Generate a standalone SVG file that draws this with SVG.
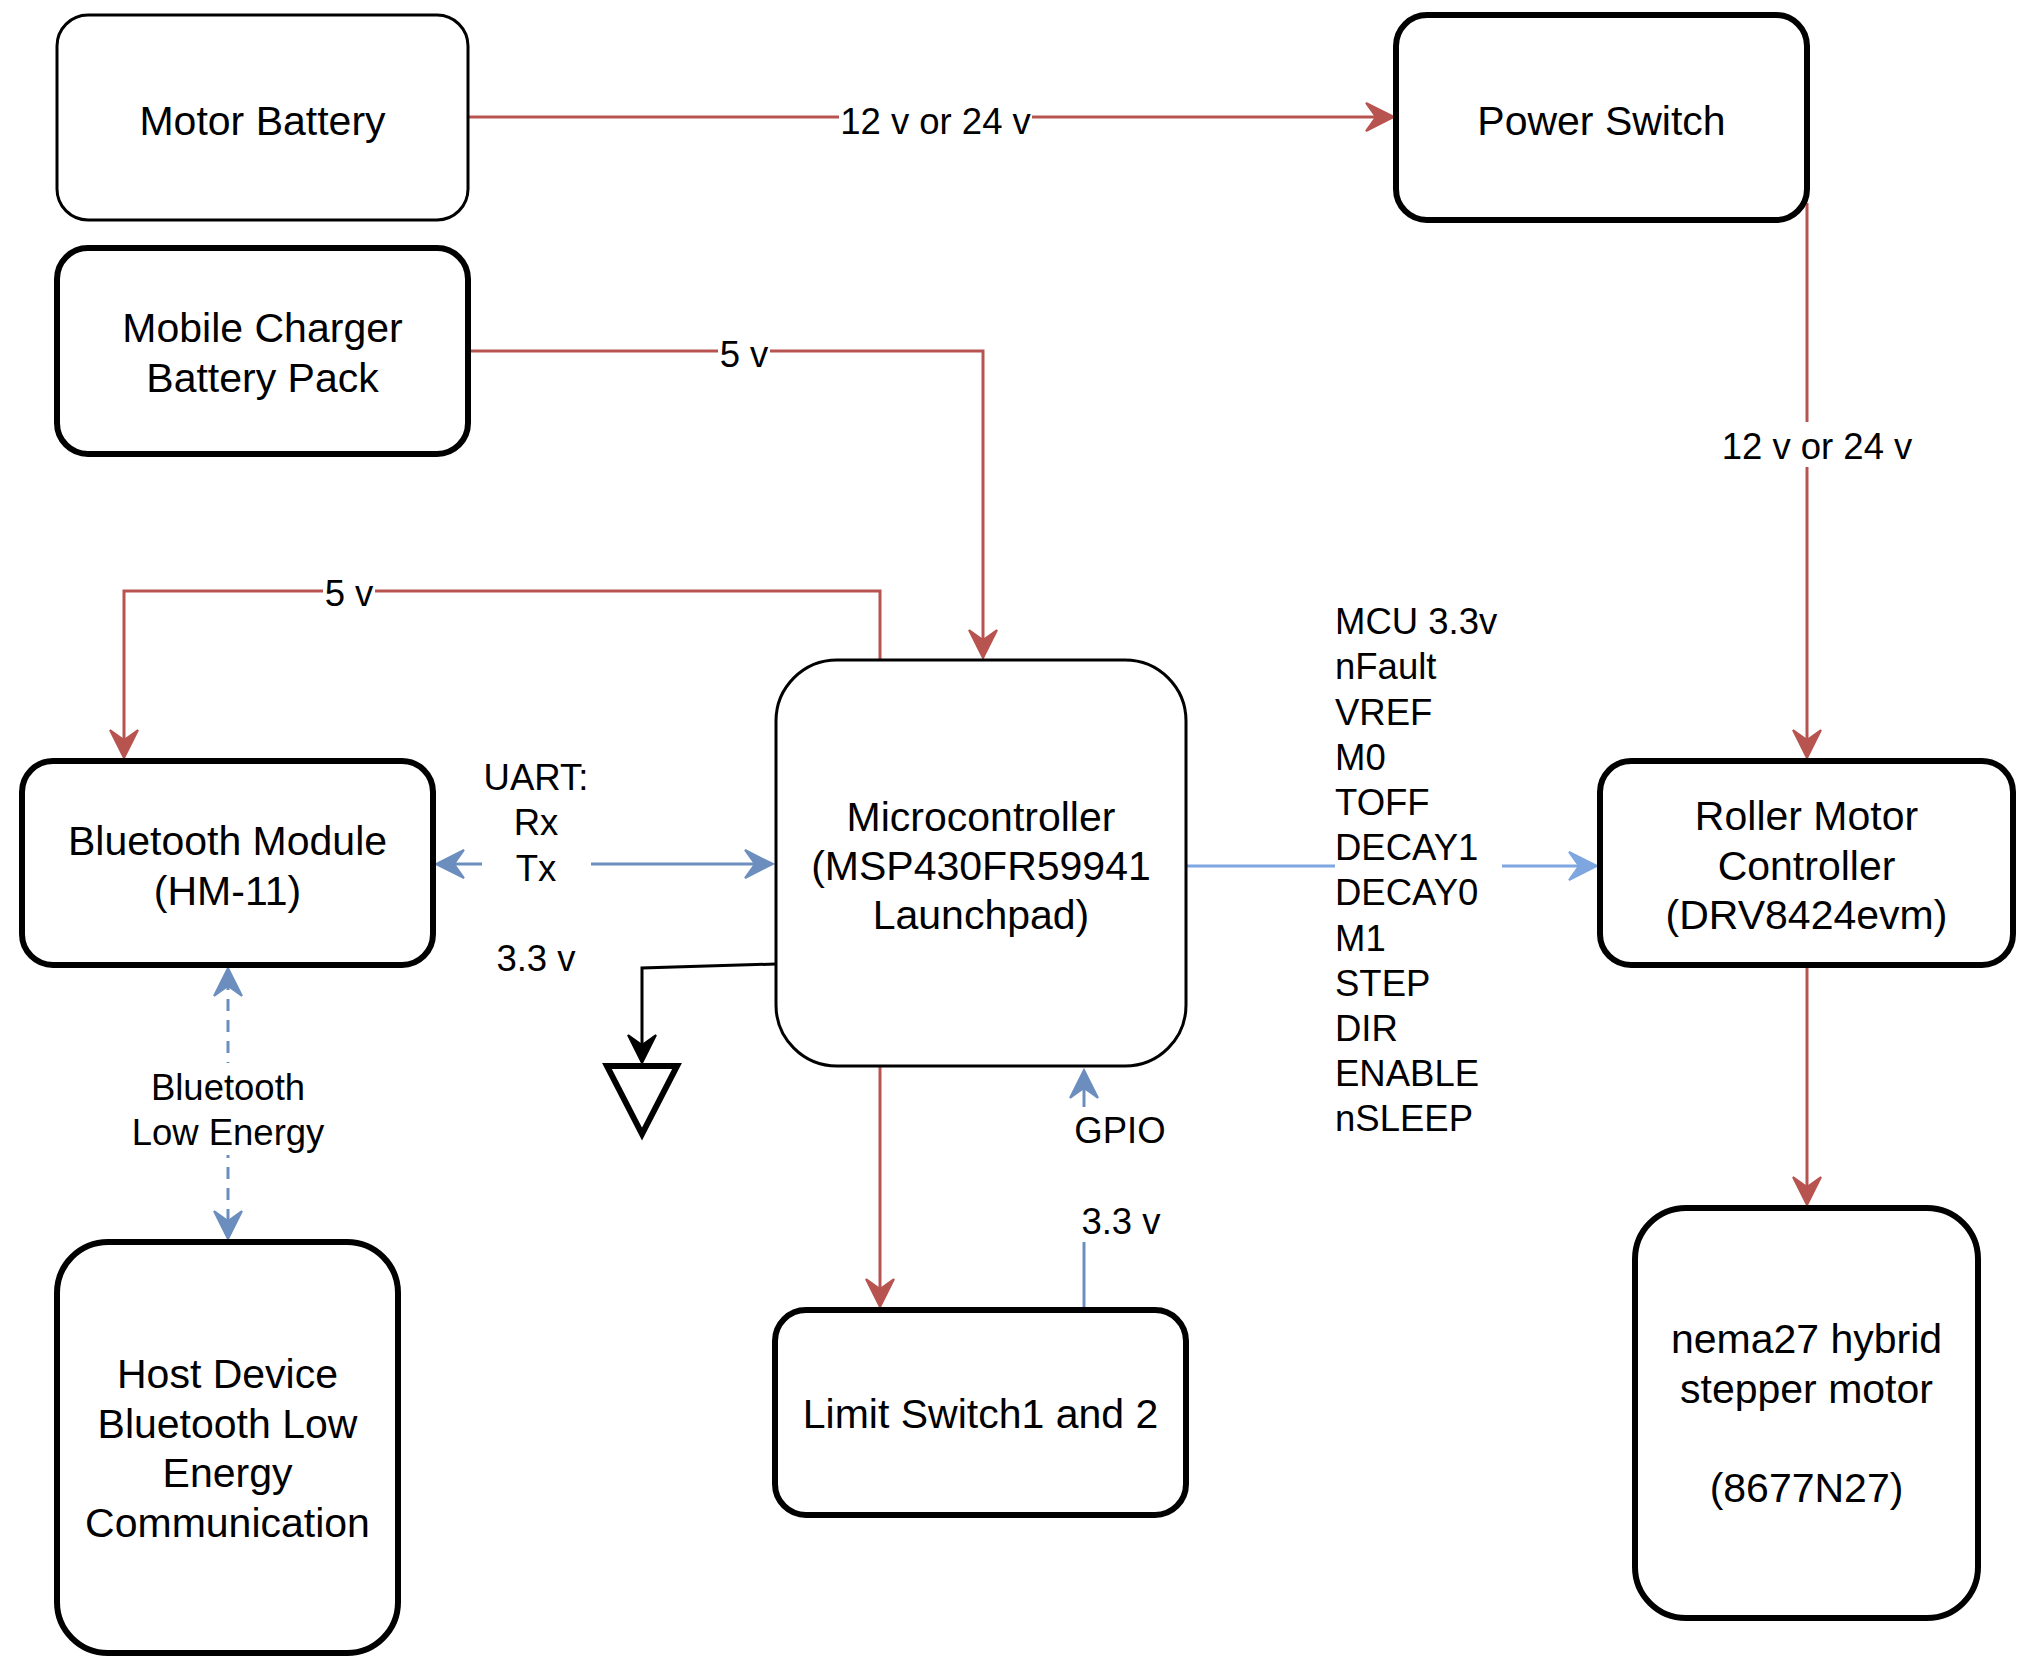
<svg xmlns="http://www.w3.org/2000/svg" width="2022" height="1667" viewBox="0 0 2022 1667">
<style>
  .box { fill: #ffffff; stroke: #000000; }
  .thin { stroke-width: 3; }
  .thick { stroke-width: 6; }
  text { font-family: "Liberation Sans", Arial, Helvetica, sans-serif; fill: #000000; }
  .nt { font-size: 41px; text-anchor: middle; }
  .lt { font-size: 36.5px; }
  .mid { text-anchor: middle; }
  .edge { fill: none; stroke-width: 3; }
  .red { stroke: #B85450; }
  .blue { stroke: #6C8EBF; }
  .lblue { stroke: #7EA6E0; }
  .black { stroke: #000000; }
  .lbg { fill: #ffffff; stroke: none; }
</style>
<defs>
  <marker id="aRed" viewBox="-20 -16 32 32" refX="0" refY="0" markerWidth="32" markerHeight="32" markerUnits="userSpaceOnUse" orient="auto-start-reverse">
    <path d="M10,0 L-18,-14 L-8,0 L-18,14 Z" fill="#B85450" stroke="#B85450" stroke-width="2" stroke-linejoin="miter"/>
  </marker>
  <marker id="aBlue" viewBox="-20 -16 32 32" refX="0" refY="0" markerWidth="32" markerHeight="32" markerUnits="userSpaceOnUse" orient="auto-start-reverse">
    <path d="M10,0 L-18,-14 L-8,0 L-18,14 Z" fill="#6C8EBF" stroke="#6C8EBF" stroke-width="2"/>
  </marker>
  <marker id="aLBlue" viewBox="-20 -16 32 32" refX="0" refY="0" markerWidth="32" markerHeight="32" markerUnits="userSpaceOnUse" orient="auto-start-reverse">
    <path d="M10,0 L-18,-14 L-8,0 L-18,14 Z" fill="#7EA6E0" stroke="#7EA6E0" stroke-width="2"/>
  </marker>
  <marker id="aBlack" viewBox="-20 -16 32 32" refX="0" refY="0" markerWidth="32" markerHeight="32" markerUnits="userSpaceOnUse" orient="auto-start-reverse">
    <path d="M10,0 L-18,-14 L-8,0 L-18,14 Z" fill="#000000" stroke="#000000" stroke-width="2"/>
  </marker>
</defs>
<rect x="0" y="0" width="2022" height="1667" fill="#ffffff"/>

<g id="connectors">
  <!-- Motor Battery -> Power Switch -->
  <path class="edge red" d="M468,117 H1384" marker-end="url(#aRed)"/>
  <rect class="lbg" x="839" y="97" width="193" height="45"/>
  <text class="lt mid" x="935.5" y="134">12 v or 24 v</text>

  <!-- Mobile Charger -> MCU -->
  <path class="edge red" d="M468,351 H983 V648" marker-end="url(#aRed)"/>
  <rect class="lbg" x="718" y="330" width="52" height="45"/>
  <text class="lt mid" x="744" y="367">5 v</text>

  <!-- MCU -> Bluetooth Module -->
  <path class="edge red" d="M880,660 V591 H124 V748" marker-end="url(#aRed)"/>
  <rect class="lbg" x="323" y="570" width="52" height="45"/>
  <text class="lt mid" x="349" y="606">5 v</text>

  <!-- UART -->
  <path class="edge blue" d="M446,864 H763" marker-start="url(#aBlue)" marker-end="url(#aBlue)"/>
  <rect class="lbg" x="482" y="754" width="109" height="225"/>
  <text class="lt mid" x="536" y="790">UART:</text>
  <text class="lt mid" x="536" y="835">Rx</text>
  <text class="lt mid" x="536" y="880.5">Tx</text>
  <text class="lt mid" x="536" y="971">3.3 v</text>

  <!-- BLE -->
  <path class="edge blue" d="M228,978 V1229" stroke-dasharray="12 9" marker-start="url(#aBlue)" marker-end="url(#aBlue)"/>
  <rect class="lbg" x="131" y="1063" width="194" height="92"/>
  <text class="lt mid" x="228" y="1100">Bluetooth</text>
  <text class="lt mid" x="228" y="1145">Low Energy</text>

  <!-- MCU -> Ground -->
  <path class="edge black" d="M776,964 L642,968 V1053" marker-end="url(#aBlack)"/>

  <!-- MCU -> Limit Switch -->
  <path class="edge red" d="M880,1066 V1297" marker-end="url(#aRed)"/>

  <!-- Limit Switch -> MCU (GPIO) -->
  <path class="edge blue" d="M1084,1310 V1080" marker-end="url(#aBlue)"/>
  <rect class="lbg" x="1074" y="1107" width="93" height="135"/>
  <text class="lt mid" x="1120" y="1143">GPIO</text>
  <text class="lt mid" x="1121" y="1234">3.3 v</text>

  <!-- MCU -> Roller Motor Controller -->
  <path class="edge lblue" d="M1186,866 H1587" marker-end="url(#aLBlue)"/>
  <rect class="lbg" x="1335" y="597" width="167" height="542"/>
  <text class="lt" x="1335" y="634">MCU 3.3v</text>
  <text class="lt" x="1335" y="679">nFault</text>
  <text class="lt" x="1335" y="724.5">VREF</text>
  <text class="lt" x="1335" y="769.5">M0</text>
  <text class="lt" x="1335" y="815">TOFF</text>
  <text class="lt" x="1335" y="860">DECAY1</text>
  <text class="lt" x="1335" y="905">DECAY0</text>
  <text class="lt" x="1335" y="950.5">M1</text>
  <text class="lt" x="1335" y="995.5">STEP</text>
  <text class="lt" x="1335" y="1041">DIR</text>
  <text class="lt" x="1335" y="1086">ENABLE</text>
  <text class="lt" x="1335" y="1131">nSLEEP</text>

  <!-- Power Switch -> Roller Motor Controller -->
  <path class="edge red" d="M1807,203 V748" marker-end="url(#aRed)"/>
  <rect class="lbg" x="1720" y="422" width="194" height="45"/>
  <text class="lt mid" x="1817" y="459">12 v or 24 v</text>

  <!-- Roller Motor Controller -> Stepper -->
  <path class="edge red" d="M1807,965 V1195" marker-end="url(#aRed)"/>
</g>

<g id="motor-battery">
  <rect class="box thin" x="57" y="15" width="411" height="205" rx="31" ry="31"/>
  <text class="nt" x="262.5" y="135">Motor Battery</text>
</g>

<g id="mobile-charger">
  <rect class="box thick" x="57" y="248" width="411" height="206" rx="31" ry="31"/>
  <text class="nt" x="262.5" y="342">Mobile Charger</text>
  <text class="nt" x="262.5" y="392">Battery Pack</text>
</g>

<g id="power-switch">
  <rect class="box thick" x="1396" y="15" width="411" height="205" rx="31" ry="31"/>
  <text class="nt" x="1601.5" y="135">Power Switch</text>
</g>

<g id="bluetooth-module">
  <rect class="box thick" x="22" y="761" width="411" height="204" rx="31" ry="31"/>
  <text class="nt" x="227.5" y="855">Bluetooth Module</text>
  <text class="nt" x="227.5" y="904.5">(HM-11)</text>
</g>

<g id="microcontroller">
  <rect class="box thin" x="776" y="660" width="410" height="406" rx="61" ry="61"/>
  <text class="nt" x="981" y="831">Microcontroller</text>
  <text class="nt" x="981" y="880">(MSP430FR59941</text>
  <text class="nt" x="981" y="929">Launchpad)</text>
</g>

<g id="roller-motor-controller">
  <rect class="box thick" x="1600" y="761" width="413" height="204" rx="31" ry="31"/>
  <text class="nt" x="1806.5" y="830">Roller Motor</text>
  <text class="nt" x="1806.5" y="880">Controller</text>
  <text class="nt" x="1806.5" y="929">(DRV8424evm)</text>
</g>

<g id="ground">
  <polygon points="607,1066 677,1066 642,1134" fill="#ffffff" stroke="#000000" stroke-width="6" stroke-linejoin="miter"/>
</g>

<g id="host-device">
  <rect class="box thick" x="57" y="1242" width="341" height="411" rx="51" ry="51"/>
  <text class="nt" x="227.5" y="1388">Host Device</text>
  <text class="nt" x="227.5" y="1437.5">Bluetooth Low</text>
  <text class="nt" x="227.5" y="1487">Energy</text>
  <text class="nt" x="227.5" y="1536.5">Communication</text>
</g>

<g id="limit-switch">
  <rect class="box thick" x="775" y="1310" width="411" height="205" rx="31" ry="31"/>
  <text class="nt" x="980.5" y="1428">Limit Switch1 and 2</text>
</g>

<g id="stepper-motor">
  <rect class="box thick" x="1635" y="1208" width="343" height="410" rx="51" ry="51"/>
  <text class="nt" x="1806.5" y="1353">nema27 hybrid</text>
  <text class="nt" x="1806.5" y="1403">stepper motor</text>
  <text class="nt" x="1806.5" y="1502">(8677N27)</text>
</g>
</svg>
